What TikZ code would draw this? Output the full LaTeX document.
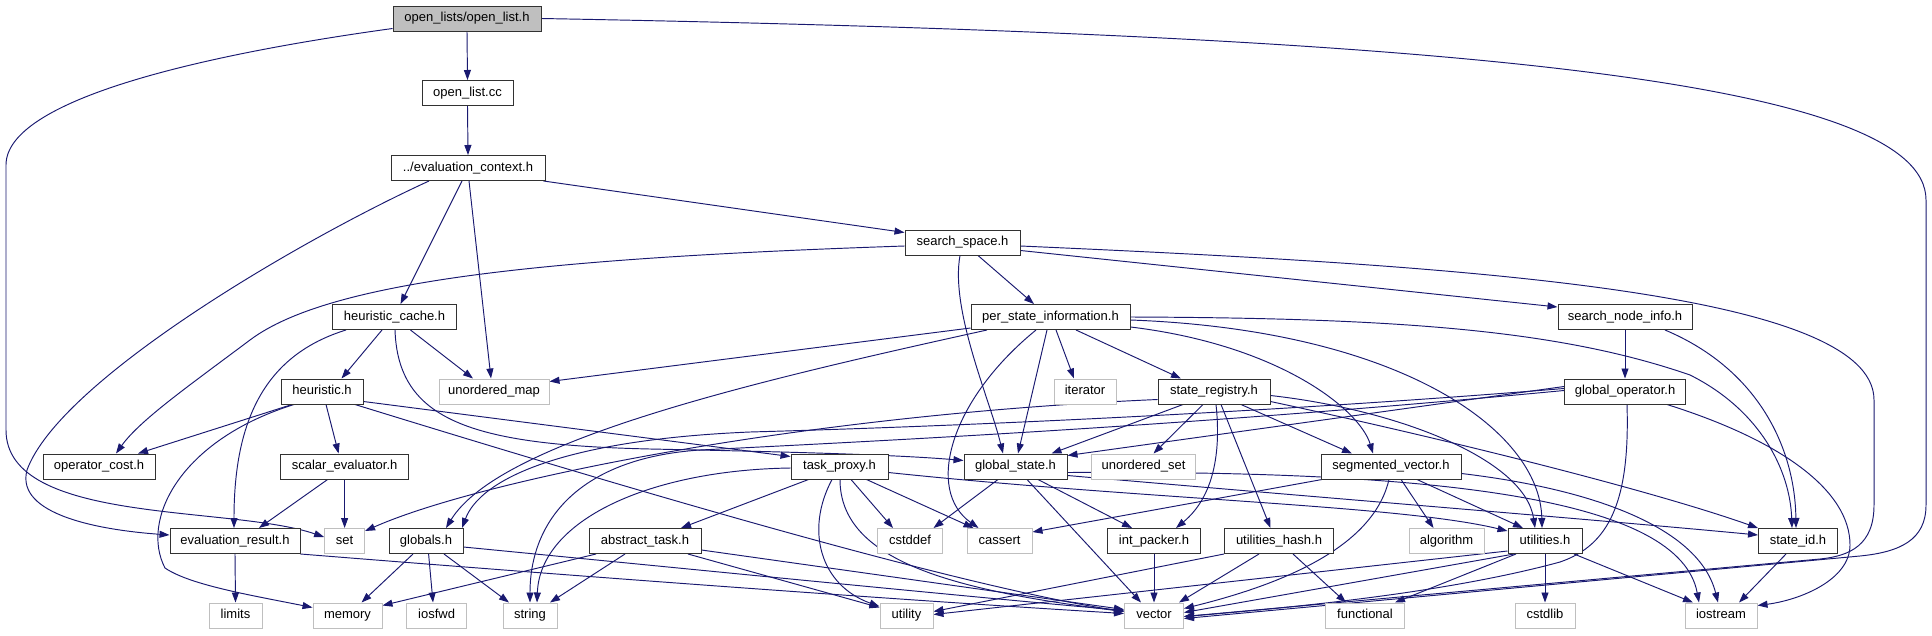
\documentclass[tikz,border=0pt]{standalone}
\usepackage{fontspec}
\setmainfont{Liberation Sans}
\usetikzlibrary{arrows.meta}
\pgfdeclarelayer{back}
\pgfdeclarelayer{bg}
\pgfsetlayers{back,bg,main}
\definecolor{edgec}{RGB}{25,25,112}
\definecolor{boxgray}{RGB}{191,191,191}
\definecolor{boxline}{RGB}{50,50,50}
\begin{document}
\begin{tikzpicture}[x=1pt,y=-1pt,
  file/.style={draw=boxline, fill=white, line width=1pt, minimum height=25pt, inner sep=0pt, text height=9.4pt, text depth=2.8pt, font=\fontsize{13pt}{15pt}\selectfont, text=black},
  sysf/.style={file, draw=boxgray},
  rootf/.style={file, fill=boxgray},
  dep/.style={draw=edgec, line width=0.95pt, -{Triangle[length=10pt,width=7pt]}}]
\begin{pgfonlayer}{back}
\fill[white] (0,0) rectangle (1932,635);
\end{pgfonlayer}
\useasboundingbox (0,0) rectangle (1932,635);
% row 0-4
\node[rootf, minimum width=148pt] (ol) at (467,18.5) {open\_lists/open\_list.h};
\node[file, minimum width=91pt] (olcc) at (467.5,93) {open\_list.cc};
\node[file, minimum width=154pt] (ec) at (468,168) {../evaluation\_context.h};
\node[file, minimum width=115pt] (ss) at (962.5,242.5) {search\_space.h};
\node[file, minimum width=124pt] (hc) at (394.5,317) {heuristic\_cache.h};
\node[file, minimum width=159pt] (psi) at (1050.5,317) {per\_state\_information.h};
\node[file, minimum width=134pt] (sni) at (1625,317) {search\_node\_info.h};
% row 5
\node[file, minimum width=82pt] (heu) at (322,391.5) {heuristic.h};
\node[sysf, minimum width=110pt] (um) at (494,391.5) {unordered\_map};
\node[sysf, minimum width=62pt] (it) at (1085,391.5) {iterator};
\node[file, minimum width=112pt] (sr) at (1214,391.5) {state\_registry.h};
\node[file, minimum width=121pt] (go) at (1625,391.5) {global\_operator.h};
% row 6
\node[file, minimum width=112pt] (oc) at (99,466.5) {operator\_cost.h};
\node[file, minimum width=128pt] (se) at (344.6,466.5) {scalar\_evaluator.h};
\node[file, minimum width=97pt] (tp) at (839.5,466.5) {task\_proxy.h};
\node[file, minimum width=103pt] (gs) at (1015.5,466.5) {global\_state.h};
\node[sysf, minimum width=104pt] (us) at (1143.5,466.5) {unordered\_set};
\node[file, minimum width=140pt] (sv) at (1391,466.5) {segmented\_vector.h};
% row 7
\node[file, minimum width=130pt] (er) at (235,541) {evaluation\_result.h};
\node[sysf, minimum width=40pt] (set) at (344.6,541) {set};
\node[file, minimum width=74pt] (gl) at (426,541) {globals.h};
\node[file, minimum width=112pt] (at) at (645,541) {abstract\_task.h};
\node[sysf, minimum width=65pt] (cd) at (910,541) {cstddef};
\node[sysf, minimum width=65pt] (ca) at (999.5,541) {cassert};
\node[file, minimum width=93pt] (ip) at (1154,541) {int\_packer.h};
\node[file, minimum width=109pt] (uh) at (1279,541) {utilities\_hash.h};
\node[sysf, minimum width=75pt] (al) at (1446.5,541) {algorithm};
\node[file, minimum width=74pt] (ut) at (1545,541) {utilities.h};
\node[file, minimum width=79pt] (sid) at (1798,541) {state\_id.h};
% row 8
\node[sysf, minimum width=53pt] (li) at (235.5,615.5) {limits};
\node[sysf, minimum width=69pt] (me) at (347.5,615.5) {memory};
\node[sysf, minimum width=60pt] (io) at (436.6,615.5) {iosfwd};
\node[sysf, minimum width=54pt] (st) at (530,615.5) {string};
\node[sysf, minimum width=53pt] (uy) at (906.5,615.5) {utility};
\node[sysf, minimum width=59pt] (ve) at (1154,615.5) {vector};
\node[sysf, minimum width=79pt] (fu) at (1365,615.5) {functional};
\node[sysf, minimum width=60pt] (cl) at (1545,615.5) {cstdlib};
\node[sysf, minimum width=72pt] (ios) at (1721,615.5) {iostream};

\begin{pgfonlayer}{bg}
% open_list.h
\draw[dep] (ol.south) -- (olcc.north);
\draw[dep] ([yshift=-10pt]ol.west) .. controls (200,55) and (6,100) .. (6,165) -- (6,430) .. controls (6,525) and (230,505) .. ([yshift=4pt]set.west);
\draw[dep] (ol.east) .. controls (1450,35) and (1926,80) .. (1926,200) -- (1926,505) .. controls (1926,540) and (1900,552) .. (1860,556) -- ([yshift=-3pt]ve.east);
\draw[dep] (olcc.south) -- (ec.north);
% evaluation_context.h
\draw[dep] ([xshift=-2pt]ec.south east) -- ([yshift=10pt]ss.west);
\draw[dep] ([xshift=-6pt]ec.south) -- ([xshift=6pt]hc.north);
\draw[dep] ([xshift=1pt]ec.south) -- ([xshift=-3pt]um.north);
\draw[dep] ([xshift=-39pt]ec.south) .. controls (300,240) and (60,380) .. (27,470) .. controls (15,515) and (100,530) .. ([yshift=6pt]er.west);
% search_space.h
\draw[dep] ([yshift=-3.5pt]ss.west) .. controls (550,258) and (330,280) .. (250,340) .. controls (190,385) and (140,420) .. ([xshift=17pt]oc.north);
\draw[dep] ([xshift=15.5pt]ss.south) -- ([xshift=-16.5pt]psi.north);
\draw[dep] ([xshift=-2.5pt]ss.south) .. controls (950,310) and (990,400) .. ([xshift=-12.5pt]gs.north);
\draw[dep] ([yshift=-8pt]ss.east) -- ([yshift=10pt]sni.west);
\draw[dep] ([yshift=-3.5pt]ss.east) .. controls (1450,265) and (1874,290) .. (1874,400) -- (1874,505) .. controls (1874,545) and (1850,556) .. (1820,559) -- ([yshift=-1pt]ve.east);
% heuristic_cache.h
\draw[dep] ([xshift=-12.5pt]hc.south) -- ([xshift=19.5pt]heu.north);
\draw[dep] ([xshift=16pt]hc.south) -- ([xshift=-21pt]um.north);
\draw[dep] ([xshift=-48.5pt]hc.south) .. controls (265,355) and (234,420) .. ([xshift=-1pt]er.north);
\draw[dep] ([xshift=0.5pt]hc.south) .. controls (398,420) and (470,445) .. (650,449) .. controls (800,452) and (900,455) .. ([yshift=6pt]gs.west);
% heuristic.h
\draw[dep] ([xshift=-30pt]heu.south) -- ([xshift=39pt]oc.north);
\draw[dep] ([xshift=4pt]heu.south) -- ([xshift=-6pt]se.north);
\draw[dep] ([xshift=-28pt]heu.south) .. controls (180,440) and (140,520) .. (165,568) .. controls (190,585) and (250,595) .. ([yshift=8pt]me.west);
\draw[dep] ([yshift=-10pt]heu.east) -- ([yshift=10pt]tp.west);
\draw[dep] ([xshift=33pt]heu.south) .. controls (600,480) and (950,585) .. ([yshift=4pt]ve.west);
% scalar_evaluator.h
\draw[dep] ([xshift=-17pt]se.south) -- ([xshift=24pt]er.north);
\draw[dep] (se.south) -- (set.north);
% evaluation_result.h
\draw[dep] (er.south) -- (li.north);
\draw[dep] (er.south east) .. controls (600,578) and (900,600) .. ([yshift=2pt]ve.west);
% globals.h
\draw[dep] ([xshift=-13pt]gl.south) -- ([xshift=14pt]me.north);
\draw[dep] ([xshift=2.6pt]gl.south) -- ([xshift=-3.6pt]io.north);
\draw[dep] ([xshift=18pt]gl.south) -- ([xshift=-21pt]st.north);
\draw[dep] ([yshift=-6pt]gl.east) .. controls (700,570) and (950,595) .. ([yshift=5pt]ve.west);
% abstract_task.h
\draw[dep] ([xshift=-49pt]at.south) -- ([yshift=10pt]me.east);
\draw[dep] ([xshift=-20pt]at.south) -- ([xshift=20pt]st.north);
\draw[dep] ([xshift=43pt]at.south) -- ([yshift=8pt]uy.west);
\draw[dep] ([yshift=-9pt]at.east) -- ([yshift=6pt]ve.west);
% task_proxy.h
\draw[dep] ([xshift=-31pt]tp.south) -- ([xshift=36pt]at.north);
\draw[dep] ([xshift=11.5pt]tp.south) -- ([xshift=-17pt]cd.north);
\draw[dep] ([xshift=27pt]tp.south) -- ([xshift=-26pt]ca.north);
\draw[dep] ([xshift=-7.5pt]tp.south) .. controls (805,530) and (820,585) .. ([yshift=9pt]uy.west);
\draw[dep] ([xshift=0.5pt]tp.south) .. controls (840,560) and (950,590) .. ([yshift=4pt]ve.west);
\draw[dep] ([yshift=-1.5pt]tp.west) .. controls (650,470) and (540,520) .. ([xshift=7pt]st.north);
\draw[dep] ([yshift=-6pt]tp.east) .. controls (1150,500) and (1400,505) .. ([yshift=10pt]ut.west);
% per_state_information.h
\draw[dep] ([yshift=-11pt]psi.west) -- ([yshift=10pt]um.east);
\draw[dep] ([xshift=-63.5pt]psi.south) .. controls (760,380) and (500,440) .. ([xshift=20pt]gl.north);
\draw[dep] ([xshift=-14.5pt]psi.south) .. controls (950,400) and (925,490) .. ([xshift=-21pt]ca.north);
\draw[dep] ([xshift=-3.5pt]psi.south) -- ([xshift=2.5pt]gs.north);
\draw[dep] ([xshift=5.5pt]psi.south) -- ([xshift=-11pt]it.north);
\draw[dep] ([xshift=25.5pt]psi.south) -- ([xshift=-33pt]sr.north);
\draw[dep] ([yshift=-10pt]psi.east) .. controls (1280,345) and (1360,410) .. ([xshift=-18pt]sv.north);
\draw[dep] ([yshift=-3pt]psi.east) .. controls (1400,330) and (1540,430) .. ([xshift=-3pt]ut.north);
\draw[dep] (psi.east) .. controls (1400,318) and (1560,330) .. (1690,375) .. controls (1760,410) and (1790,470) .. ([xshift=-6pt]sid.north);
% search_node_info.h
\draw[dep] (sni.south) -- (go.north);
\draw[dep] ([xshift=40pt]sni.south) .. controls (1760,370) and (1795,450) .. ([xshift=-2pt]sid.north);
% global_operator.h
\draw[dep] ([yshift=5pt]go.west) -- ([yshift=11pt]gs.east);
\draw[dep] ([yshift=3pt]go.west) .. controls (1300,410) and (1000,425) .. (750,432) .. controls (560,440) and (480,480) .. ([xshift=36pt]gl.north);
\draw[dep] ([yshift=1pt]go.west) .. controls (1200,425) and (900,440) .. (700,450) .. controls (580,458) and (530,520) .. (st.north);
\draw[dep] ([xshift=2pt]go.south) .. controls (1630,500) and (1610,545) .. (1560,562) .. controls (1450,592) and (1300,607) .. ([yshift=-1pt]ve.east);
\draw[dep] ([xshift=42pt]go.south) .. controls (1780,440) and (1850,490) .. (1850,545) .. controls (1850,580) and (1800,600) .. ([yshift=10pt]ios.east);
% state_registry.h
\draw[dep] ([yshift=-8pt]sr.west) .. controls (800,415) and (480,480) .. ([yshift=10pt]set.east);
\draw[dep] ([xshift=-31pt]sr.south) -- ([xshift=36pt]gs.north);
\draw[dep] ([xshift=-11pt]sr.south) -- ([xshift=10pt]us.north);
\draw[dep] ([xshift=2pt]sr.south) .. controls (1222,460) and (1210,500) .. ([xshift=22pt]ip.north);
\draw[dep] ([xshift=7pt]sr.south) -- ([xshift=-8.5pt]uh.north);
\draw[dep] ([xshift=27pt]sr.south) -- ([xshift=-39pt]sv.north);
\draw[dep] ([yshift=-4pt]sr.east) .. controls (1400,410) and (1525,460) .. ([xshift=-10pt]ut.north);
\draw[dep] ([yshift=-10pt]sr.east) .. controls (1450,440) and (1650,490) .. (sid.north west);
% global_state.h
\draw[dep] ([xshift=-17.5pt]gs.south) -- ([xshift=23.5pt]cd.north);
\draw[dep] ([xshift=11.5pt]gs.south) -- ([xshift=-13pt]ve.north);
\draw[dep] ([xshift=22.5pt]gs.south) -- ([xshift=-22pt]ip.north);
\draw[dep] ([yshift=-9pt]gs.east) .. controls (1350,500) and (1600,520) .. ([yshift=6pt]sid.west);
\draw[dep] ([yshift=-6pt]gs.east) .. controls (1450,470) and (1680,500) .. ([xshift=-22pt]ios.north);
% segmented_vector.h
\draw[dep] ([xshift=-69pt]sv.south) -- ([yshift=9pt]ca.east);
\draw[dep] ([xshift=10pt]sv.south) -- ([xshift=-13pt]al.north);
\draw[dep] ([xshift=26pt]sv.south) -- ([xshift=-22pt]ut.north);
\draw[dep] ([xshift=-2pt]sv.south) .. controls (1375,540) and (1300,580) .. ([yshift=7pt]ve.east);
\draw[dep] ([yshift=-7pt]sv.east) .. controls (1600,490) and (1700,530) .. ([xshift=-3pt]ios.north);
% int_packer.h, utilities_hash.h
\draw[dep] (ip.south) -- (ve.north);
\draw[dep] (uh.south west) -- ([yshift=4pt]uy.east);
\draw[dep] ([xshift=-20pt]uh.south) -- ([xshift=25pt]ve.north);
\draw[dep] ([xshift=14pt]uh.south) -- ([xshift=-19pt]fu.north);
% utilities.h
\draw[dep] ([yshift=-10pt]ut.west) -- ([yshift=1pt]uy.east);
\draw[dep] ([xshift=-31pt]ut.south) -- ([yshift=3pt]ve.east);
\draw[dep] ([xshift=-29pt]ut.south) -- ([xshift=30pt]fu.north);
\draw[dep] (ut.south) -- (cl.north);
\draw[dep] ([xshift=29pt]ut.south) -- ([xshift=-28pt]ios.north);
% state_id.h
\draw[dep] ([xshift=-12pt]sid.south) -- ([xshift=18pt]ios.north);
\end{pgfonlayer}
\end{tikzpicture}
\end{document}
